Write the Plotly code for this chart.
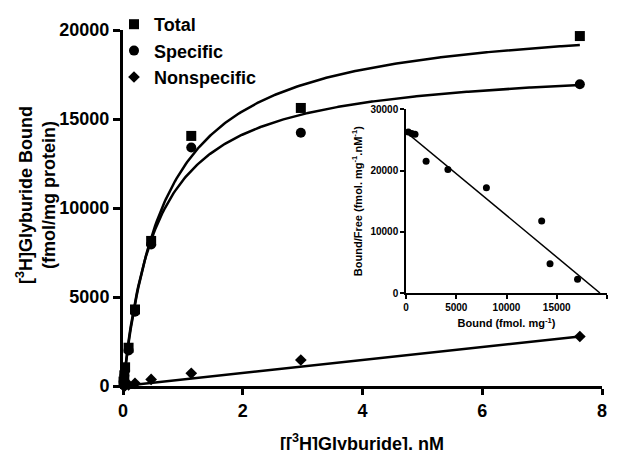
import numpy as np
import plotly.graph_objects as go

# ---- data ----
conc = [0.009, 0.022, 0.035, 0.093, 0.20, 0.47, 1.14, 2.97, 7.63]
total = [250, 600, 1050, 2150, 4300, 8150, 14050, 15620, 19660]
specific = [230, 570, 900, 2000, 4170, 7950, 13400, 14230, 16950]
nonspecific = [5, 12, 20, 60, 150, 370, 710, 1460, 2780]

# Scatchard inset
sc_bound = [230, 570, 900, 2000, 4170, 8000, 13500, 14330, 17070]
sc_bf = [26300, 26050, 25940, 21500, 20180, 17180, 11750, 4780, 2230]

# fit parameters (one-site hyperbola / linear)
total_bmax, total_kd = 20950, 0.713
spec_bmax, spec_kd = 18180, 0.573
ns_slope = 365
sc_yint, sc_xint = 26300, 19300

x_ticks = [0, 2, 4, 6, 8]
y_ticks = [0, 5000, 10000, 15000, 20000]
ix_ticks = [0, 5000, 10000, 15000, 20000]
iy_ticks = [0, 10000, 20000, 30000]

FONT = "Liberation Sans, Arial, Helvetica, sans-serif"

xs = np.linspace(0, max(conc), 300)
fig = go.Figure()

# fitted curves
fig.add_trace(go.Scatter(x=xs, y=total_bmax * xs / (total_kd + xs), mode="lines",
                         line=dict(color="black", width=2.5), showlegend=False,
                         hoverinfo="skip", cliponaxis=False))
fig.add_trace(go.Scatter(x=xs, y=spec_bmax * xs / (spec_kd + xs), mode="lines",
                         line=dict(color="black", width=2.5), showlegend=False,
                         hoverinfo="skip", cliponaxis=False))
fig.add_trace(go.Scatter(x=[0, max(conc)], y=[0, ns_slope * max(conc)], mode="lines",
                         line=dict(color="black", width=2.5), showlegend=False,
                         hoverinfo="skip", cliponaxis=False))

# data points
fig.add_trace(go.Scatter(x=conc, y=total, mode="markers", name="Total",
                         marker=dict(symbol="square", size=10, color="black"),
                         cliponaxis=False))
fig.add_trace(go.Scatter(x=conc, y=specific, mode="markers", name="Specific",
                         marker=dict(symbol="circle", size=10, color="black"),
                         cliponaxis=False))
fig.add_trace(go.Scatter(x=conc, y=nonspecific, mode="markers", name="Nonspecific",
                         marker=dict(symbol="diamond", size=9, color="black"),
                         cliponaxis=False))

# inset Scatchard
fig.add_trace(go.Scatter(x=[0, sc_xint], y=[sc_yint, 0], mode="lines",
                         line=dict(color="black", width=1.5), showlegend=False,
                         xaxis="x2", yaxis="y2", hoverinfo="skip", cliponaxis=False))
fig.add_trace(go.Scatter(x=sc_bound, y=sc_bf, mode="markers", showlegend=False,
                         marker=dict(symbol="circle", size=7, color="black"),
                         xaxis="x2", yaxis="y2", cliponaxis=False))

axis_common = dict(showline=True, linecolor="black", showgrid=False, zeroline=False,
                   ticks="outside", tickcolor="black", automargin=False)

# page offset (browser body margin)
OFF = 8
W, H = 621 - OFF, 450 - OFF
L, R, T, B = 92, 10, 10, 64
PW, PH = W - L - R, H - T - B


def dx(px):
    return (px - OFF - L) / PW


def dy(py):
    return (H - B - (py - OFF)) / PH


TITLE_FONT = dict(size=18, family=FONT, weight="bold")

fig.update_layout(
    width=W, height=H,
    margin=dict(l=L, r=R, t=T, b=B, autoexpand=False),
    paper_bgcolor="white", plot_bgcolor="white",
    font=dict(family=FONT, color="black"),
    showlegend=True,
    legend=dict(x=dx(114), y=dy(6), xanchor="left", yanchor="top",
                font=dict(size=18, family=FONT, weight="bold"),
                bgcolor="rgba(0,0,0,0)", borderwidth=0, itemwidth=30),
    xaxis=dict(**axis_common, domain=[dx(123), dx(602)], anchor="y", range=[0, 8],
               tickvals=x_ticks, ticktext=[str(v) for v in x_ticks],
               linewidth=3, tickwidth=3, ticklen=6,
               tickfont=dict(size=18, family=FONT, weight="bold")),
    yaxis=dict(**axis_common, domain=[dy(386), dy(30)], anchor="x", range=[0, 20000],
               tickvals=y_ticks, ticktext=[str(v) for v in y_ticks],
               linewidth=3, tickwidth=3, ticklen=7,
               tickfont=dict(size=18, family=FONT, weight="bold")),
    xaxis2=dict(**axis_common, domain=[dx(406), dx(607)], anchor="y2", range=[0, 20000],
                tickvals=ix_ticks, ticktext=[str(v) for v in ix_ticks],
                linewidth=1.5, tickwidth=1.5, ticklen=4,
                tickfont=dict(size=10, family=FONT, weight="bold"),
                title=dict(text="Bound (fmol. mg<sup>-1</sup>)", standoff=8,
                           font=dict(size=11, family=FONT, weight="bold"))),
    yaxis2=dict(**axis_common, domain=[dy(293), dy(109.3)], anchor="x2", range=[0, 30000],
                tickvals=iy_ticks, ticktext=[str(v) for v in iy_ticks],
                linewidth=1.5, tickwidth=1.5, ticklen=4,
                tickfont=dict(size=10, family=FONT, weight="bold"),
                title=dict(text="Bound/Free (fmol. mg<sup>-1</sup>.nM<sup>-1</sup>)", standoff=6,
                           font=dict(size=11, family=FONT, weight="bold"))),
    annotations=[
        dict(text="[<sup>3</sup>H]Glyburide Bound<br>(fmol/mg protein)",
             xref="paper", yref="paper", x=dx(36), y=dy(195),
             xanchor="center", yanchor="middle", textangle=-90,
             showarrow=False, font=TITLE_FONT),
        dict(text="[[<sup>3</sup>H]Glyburide], nM",
             xref="paper", yref="paper", x=dx(362), y=dy(442),
             xanchor="center", yanchor="middle",
             showarrow=False, font=TITLE_FONT),
    ],
)

fig.write_html("out.html")
